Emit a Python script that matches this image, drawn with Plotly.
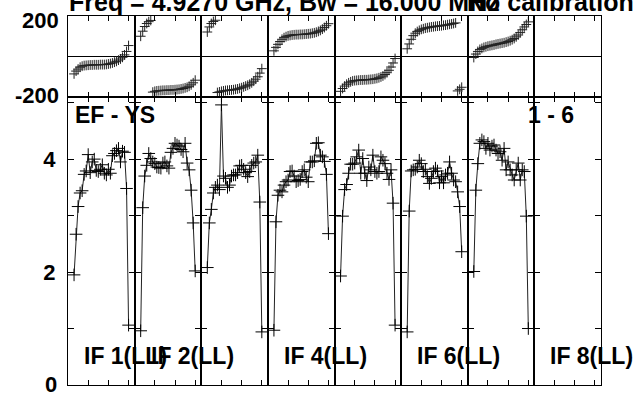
import plotly.graph_objects as go
from plotly.subplots import make_subplots

# ---- data ----
channels = list(range(3, 31))

amp_if1 = [1.95, 2.67, 3.16, 3.40, 3.44, 3.73, 3.79, 4.08, 3.76, 3.95, 4.00, 3.80, 3.78, 3.82,
           3.90, 3.75, 3.72, 3.82, 3.75, 4.06, 4.10, 4.15, 4.19, 3.95, 4.14, 4.12, 3.48, 1.06]
amp_if2 = [0.96, 3.14, 3.70, 3.89, 4.10, 4.01, 3.95, 3.92, 3.86, 3.85, 3.84, 3.93, 3.95, 3.88,
           3.84, 4.12, 4.19, 4.28, 4.25, 4.23, 4.17, 4.13, 4.28, 3.93, 3.81, 3.45, 2.87, 2.02]
amp_if3 = [2.08, 2.87, 3.11, 3.40, 3.50, 3.54, 3.46, 4.96, 3.70, 3.66, 3.50, 3.54, 3.70, 3.72,
           3.72, 3.76, 3.88, 3.89, 3.82, 3.76, 3.69, 3.78, 3.89, 3.93, 3.95, 4.07, 3.24, 0.94]
amp_if4 = [0.97, 2.89, 3.36, 3.45, 3.42, 3.54, 3.60, 3.63, 3.78, 3.79, 3.70, 3.60, 3.62, 3.64,
           3.78, 3.81, 3.68, 3.60, 3.95, 3.95, 3.97, 4.28, 4.29, 4.07, 4.04, 3.96, 3.73, 2.68]
amp_if5 = [1.93, 2.99, 3.46, 3.55, 3.75, 3.91, 3.91, 3.93, 4.04, 4.16, 3.75, 4.01, 3.75, 3.62,
           3.86, 3.81, 4.07, 3.78, 3.75, 3.78, 4.04, 3.98, 3.92, 3.75, 3.64, 3.81, 3.22, 1.06]
amp_if6 = [0.94, 3.08, 3.79, 3.81, 3.82, 3.86, 3.98, 3.92, 3.78, 3.82, 3.69, 3.57, 3.66, 3.78,
           3.84, 3.79, 3.58, 3.69, 3.58, 3.72, 3.75, 3.95, 3.75, 3.63, 3.60, 3.42, 3.16, 2.36]
amp_if7 = [2.01, 3.45, 3.92, 4.28, 4.34, 4.31, 4.19, 4.28, 4.16, 4.23, 4.25, 4.16, 4.10, 4.13,
           3.98, 4.19, 3.81, 3.95, 3.81, 3.72, 3.63, 3.81, 3.93, 3.63, 3.81, 3.78, 2.99, 1.00]

ph_if1 = [-86, -72, -62, -53, -48, -45, -44, -43, -42, -42, -41, -41, -41, -40,
          -40, -40, -39, -37, -35, -32, -28, -24, -18, -12, -4, 8, 25, 54]
ph_if2 = [100, 125, 148, 163, 172, 178, -176, -172, -170, -169, -168, -167, -167, -166,
          -166, -165, -165, -164, -163, -162, -160, -158, -155, -152, -147, -140, -130, -117]
ph_if3 = [121, 146, 163, 173, 179, -178, -175, -172, -170, -168, -167, -166, -165, -164,
          -162, -160, -157, -154, -150, -146, -142, -137, -130, -122, -112, -100, -82, -60]
ph_if4 = [28, 45, 60, 74, 85, 93, 98, 102, 104, 106, 107, 108, 108, 109,
          109, 110, 111, 112, 113, 115, 117, 120, 124, 129, 135, 143, 152, 162]
ph_if5 = [-172, -158, -146, -137, -130, -125, -121, -119, -118, -117, -116, -116, -115, -115,
          -114, -113, -112, -110, -108, -105, -101, -96, -89, -80, -68, -52, -32, -10]
ph_if6 = [38, 62, 85, 103, 115, 123, 129, 134, 137, 140, 142, 144, 146, 147,
          149, 150, 151, 152, 154, 155, 157, 159, 161, 163, 166, -170, -162, -152]
ph_if7 = [-5, 12, 25, 35, 40, 45, 48, 51, 53, 55, 57, 60, 62, 64,
          66, 68, 71, 74, 78, 83, 89, 97, 106, 118, 132, 146, 158, 171]

amp_panels = [amp_if1, amp_if2, amp_if3, amp_if4, amp_if5, amp_if6, amp_if7]
ph_panels = [ph_if1, ph_if2, ph_if3, ph_if4, ph_if5, ph_if6, ph_if7]

if_labels = {1: "IF 1(LL)", 2: "IF 2(LL)", 4: "IF 4(LL)", 6: "IF 6(LL)", 8: "IF 8(LL)"}
title_left = "Freq = 4.9270 GHz, Bw = 16.000 MHz"
title_right = "No calibration"
baseline_label = "EF - YS"
page_label = "1 - 6"

amp_ticks = [1, 2, 3, 4, 5]
amp_ticktext = ["", "2", "", "4", ""]
chan_ticks = [0, 10, 20, 30]

# ---- figure ----
NCOL = 8
FONT = "Liberation Sans, Arial, sans-serif"
fig = make_subplots(rows=2, cols=NCOL, horizontal_spacing=0, vertical_spacing=0,
                    row_heights=[0.2195, 0.7805])

for i in range(NCOL):
    if i < len(amp_panels):
        ph, amp = ph_panels[i], amp_panels[i]
    else:
        ph, amp = [], []
    fig.add_trace(go.Scatter(
        x=channels[:len(ph)], y=ph, mode="markers",
        marker=dict(symbol="cross-thin", size=7, line=dict(width=1, color="#222")),
        showlegend=False), row=1, col=i + 1)
    fig.add_trace(go.Scatter(
        x=channels[:len(amp)], y=amp, mode="lines+markers",
        line=dict(color="#222", width=1),
        marker=dict(symbol="cross-thin", size=9, line=dict(width=1, color="black")),
        showlegend=False), row=2, col=i + 1)

fig.update_xaxes(range=[0, 33], tickvals=chan_ticks, ticks="inside", ticklen=5,
                 tickcolor="black", tickwidth=1, showticklabels=False,
                 showline=True, linecolor="black", linewidth=1, mirror="ticks",
                 showgrid=False, zeroline=False)

for c in range(1, NCOL + 1):
    fig.update_yaxes(range=[-200, 200], showgrid=False, zeroline=True,
                     zerolinecolor="black", zerolinewidth=1, showline=True,
                     linecolor="black", linewidth=1, mirror=True, ticks="",
                     showticklabels=False, row=1, col=c)
    fig.update_yaxes(range=[0, 5.1], tickvals=amp_ticks, ticktext=amp_ticktext,
                     ticks="inside", ticklen=6, tickcolor="black", tickwidth=1,
                     showline=True, linecolor="black", linewidth=1, mirror="ticks",
                     showgrid=False, zeroline=False, showticklabels=(c == 1),
                     ticklabelstandoff=7,
                     tickfont=dict(family=FONT, size=22, color="black", weight="bold"),
                     row=2, col=c)

ann = []
bold = dict(family=FONT, size=23, color="black", weight="bold")
tfont = dict(family=FONT, size=25, color="black", weight="bold")
lfont = dict(family=FONT, size=22, color="black", weight="bold")
ann.append(dict(text=title_left, xref="paper", x=0, xanchor="left", yref="paper", y=1,
                yanchor="bottom", yshift=-1, showarrow=False, font=tfont, borderpad=0))
ann.append(dict(text=title_right, xref="paper", x=0, xshift=15.93 * 25, xanchor="left",
                yref="paper", y=1, yanchor="bottom", yshift=-1, showarrow=False, font=tfont,
                borderpad=0))
ann.append(dict(text="200", xref="paper", x=0, xanchor="right", xshift=-8, yref="y", y=200,
                yanchor="middle", yshift=-4, showarrow=False, font=lfont, borderpad=0))
ann.append(dict(text="-200", xref="paper", x=0, xanchor="right", xshift=-8, yref="y", y=-200,
                yanchor="middle", yshift=2, showarrow=False, font=lfont, borderpad=0))
ann.append(dict(text="0", xref="paper", x=0, xanchor="right", xshift=-10, yref="y9", y=0,
                yanchor="middle", showarrow=False, font=lfont, borderpad=0))
ann.append(dict(text=baseline_label, xref="x9 domain", x=0, xshift=6, xanchor="left",
                yref="y9 domain", y=0.936, yanchor="middle", showarrow=False, font=bold,
                borderpad=0))
ann.append(dict(text=page_label, xref="paper", x=(551 - 68) / 533, xanchor="center",
                yref="y9 domain", y=0.936, yanchor="middle", showarrow=False, font=bold,
                borderpad=0))
for n, lab in if_labels.items():
    ann.append(dict(text=lab, xref=f"x{8 + n} domain", x=0, xshift=15, xanchor="left",
                    yref="y9 domain", y=0.1007, yanchor="middle", showarrow=False,
                    font=bold, borderpad=0))

fig.update_layout(width=639, height=394, margin=dict(l=68, r=38, t=16, b=9),
                  plot_bgcolor="white", paper_bgcolor="white", annotations=ann,
                  showlegend=False)

fig.write_html("out.html", config={"displayModeBar": False},
               post_script="document.body.style.margin='0';document.body.style.overflow='hidden';")
